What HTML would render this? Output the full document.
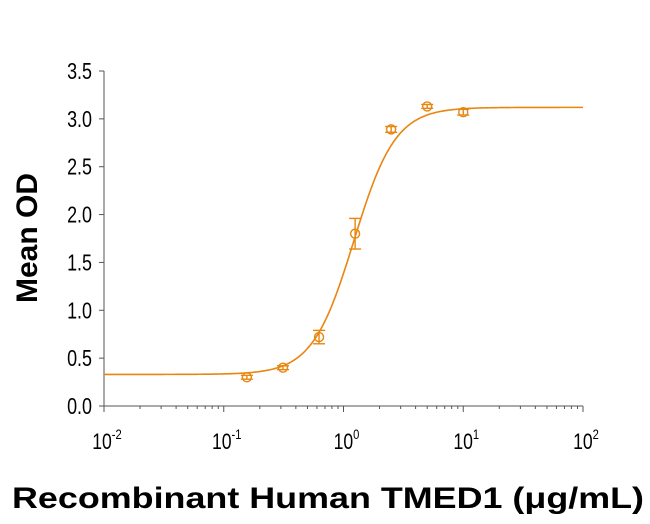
<!DOCTYPE html>
<html><head><meta charset="utf-8"><style>
body{margin:0;background:#fff;}
svg text{font-family:"Liberation Sans",sans-serif;}
</style></head><body>
<svg id="chart" width="650" height="519" viewBox="0 0 650 519">
<g id="axes"></g><g id="series"></g>
<text transform="translate(37,238) rotate(-90)" text-anchor="middle" font-size="30" font-weight="bold">Mean OD</text>
<text x="328" y="508" text-anchor="middle" font-size="30" font-weight="bold" textLength="632" lengthAdjust="spacingAndGlyphs">Recombinant Human TMED1 (μg/mL)</text>
</svg>
<script>
const concentrations=[0.156,0.3125,0.625,1.25,2.5,5,10];
const meanOD=[0.30,0.40,0.72,1.80,2.89,3.13,3.07];
const errOD=[0.02,0.02,0.07,0.16,0.03,0.02,0.03];
const yTicks=[0,0.5,1,1.5,2,2.5,3,3.5];
const yTickLabels=["0.0","0.5","1.0","1.5","2.0","2.5","3.0","3.5"];
const xDecades=[-2,-1,0,1,2];
const fitBottom=0.33, fitTop=3.12, fitEC50=1.22, fitHill=2.5;
const NS="http://www.w3.org/2000/svg";
const X0=104,X1=583,Y0=406,Y1=71;
const xs=v=>X0+(Math.log10(v)+2)/4*(X1-X0);
const ys=v=>Y0-v/3.5*(Y0-Y1);
const col="#E8860F";
function mk(t,a,p){const e=document.createElementNS(NS,t);for(const k in a)e.setAttribute(k,a[k]);p.appendChild(e);return e;}
const ax=document.getElementById('axes'),se=document.getElementById('series');
let l=mk('line',{x1:X0,y1:Y1,x2:X0,y2:Y0,stroke:'#555','stroke-width':1},ax);


l=mk('line',{x1:X0,y1:Y0,x2:X1,y2:Y0,stroke:'#555','stroke-width':1},ax);


yTicks.forEach((v,i)=>{
 mk('line',{x1:X0-5,y1:ys(v),x2:X0,y2:ys(v),stroke:'#555'},ax);
 const t=mk('text',{x:0,y:0,'font-size':23,'text-anchor':'end',transform:`translate(${X0-12},${ys(v)+8}) scale(0.78,1)`},ax);
 t.textContent=yTickLabels[i];
 
 
});
xDecades.forEach(d=>{
 const x=xs(Math.pow(10,d));
 mk('line',{x1:x,y1:Y0,x2:x,y2:Y0+6,stroke:'#555'},ax);
 if(d<2)for(let m=2;m<10;m++){const xm=xs(m*Math.pow(10,d));mk('line',{x1:xm,y1:Y0,x2:xm,y2:Y0+3,stroke:'#555'},ax);}
 const t=mk('text',{x:0,y:0,'font-size':22,'text-anchor':'middle',transform:`translate(${x+3},449) scale(0.8,1)`},ax);
 t.textContent='10';
 const s=mk('tspan',{dy:-10,'font-size':14},t);s.textContent=String(d);
 
 
});
let d='';
for(let i=0;i<=300;i++){const lx=-2+4*i/300,v=Math.pow(10,lx);
 const y=fitBottom+(fitTop-fitBottom)/(1+Math.pow(fitEC50/v,fitHill));
 d+=(i?'L':'M')+xs(v).toFixed(2)+','+ys(y).toFixed(2);}
const p=mk('path',{d:d,fill:'none',stroke:col,'stroke-width':1.6},se);


concentrations.forEach((c,i)=>{
 const x=xs(c),y=ys(meanOD[i]),yt=ys(meanOD[i]+errOD[i]),yb=ys(meanOD[i]-errOD[i]);
 const g=mk('g',{},se);
 
 
 mk('line',{x1:x,y1:yt,x2:x,y2:yb,stroke:col,'stroke-width':1.4},g);
 mk('line',{x1:x-6,y1:yt,x2:x+6,y2:yt,stroke:col,'stroke-width':1.4},g);
 mk('line',{x1:x-6,y1:yb,x2:x+6,y2:yb,stroke:col,'stroke-width':1.4},g);
 mk('circle',{cx:x,cy:y,r:4.5,fill:'none',stroke:col,'stroke-width':1.4},g);
});
</script>
</body></html>
